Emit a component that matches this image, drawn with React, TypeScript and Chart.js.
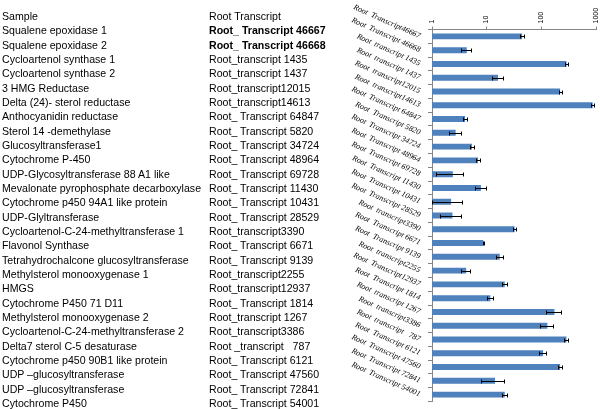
import React, { useEffect, useRef } from "react";
import { Chart, registerables } from "chart.js";

Chart.register(...registerables);

const headerSample = "Sample";
const headerTranscript = "Root Transcript";

const samples = [
  "Squalene epoxidase 1",
  "Squalene epoxidase 2",
  "Cycloartenol synthase 1",
  "Cycloartenol synthase 2",
  "3 HMG Reductase",
  "Delta (24)- sterol reductase",
  "Anthocyanidin reductase",
  "Sterol 14 -demethylase",
  "Glucosyltransferase1",
  "Cytochrome P-450",
  "UDP-Glycosyltransferase 88 A1 like",
  "Mevalonate pyrophosphate decarboxylase",
  "Cytochrome p450 94A1 like protein",
  "UDP-Glyltransferase",
  "Cycloartenol-C-24-methyltransferase 1",
  "Flavonol Synthase",
  "Tetrahydrochalcone glucosyltransferase",
  "Methylsterol monooxygenase 1",
  "HMGS",
  "Cytochrome P450 71 D11",
  "Methylsterol monooxygenase 2",
  "Cycloartenol-C-24-methyltransferase 2",
  "Delta7 sterol C-5 desaturase",
  "Cytochrome p450 90B1 like protein",
  "UDP \u2013glucosyltransferase",
  "UDP \u2013glucosyltransferase",
  "Cytochrome P450",
];

const transcripts = [
  "Root_ Transcript 46667",
  "Root_ Transcript 46668",
  "Root_transcript 1435",
  "Root_transcript 1437",
  "Root_transcript12015",
  "Root_transcript14613",
  "Root_ Transcript 64847",
  "Root_ Transcript 5820",
  "Root_ Transcript 34724",
  "Root_ Transcript 48964",
  "Root_ Transcript 69728",
  "Root_ Transcript 11430",
  "Root_ Transcript 10431",
  "Root_ Transcript 28529",
  "Root_transcript3390",
  "Root_ Transcript 6671",
  "Root_ Transcript 9139",
  "Root_transcript2255",
  "Root_transcript12937",
  "Root_ Transcript 1814",
  "Root_transcript 1267",
  "Root_transcript3386",
  "Root _transcript   787",
  "Root_ Transcript 6121",
  "Root_ Transcript 47560",
  "Root_ Transcript 72841",
  "Root_ Transcript 54001",
];

const boldRows = [0, 1];

const axisLabels = [
  "Root  Transcript46667",
  "Root  Transcript 46668",
  "Root  transcript 1435",
  "Root  transcript 1437",
  "Root  transcript12015",
  "Root  transcript14613",
  "Root  Transcript 64847",
  "Root  Transcript 5820",
  "Root  Transcript 34724",
  "Root  Transcript 48964",
  "Root  Transcript 69728",
  "Root  Transcript 11430",
  "Root  Transcript 10431",
  "Root  Transcript 28529",
  "Root  transcript3390",
  "Root  Transcript 6671",
  "Root  Transcript 9139",
  "Root  transcript2255",
  "Root  Transcript12937",
  "Root  Transcript 1814",
  "Root  transcript 1267",
  "Root  transcript3386",
  "Root  transcript   787",
  "Root  Transcript 6121",
  "Root  Transcript 47560",
  "Root  Transcript 72841",
  "Root  Transcript 54001",
];

const expression = [
  44, 4.3, 283, 16, 217, 851, 4.0, 2.7, 5.35, 6.9, 2.4, 7.8, 2.23, 2.36,
  32, 8.6, 17.2, 4.2, 21.2, 11.6, 171, 127, 283, 106, 217, 14.1, 21.2,
];

const errors = [
  4.5, 0.9, 18, 3.8, 14, 55, 0.35, 0.7, 0.5, 0.45, 1.2, 1.7, 1.25, 0.97,
  1.5, 0.2, 2.3, 0.75, 1.9, 1.55, 50, 34, 25, 16, 19, 6.3, 1.9,
];

const xTicks = [1, 10, 100, 1000];

const errorBarPlugin = {
  id: "errorBars",
  afterDatasetsDraw(chart: any) {
    const { ctx } = chart;
    const xs = chart.scales.x;
    const ys = chart.scales.y;
    ctx.save();
    ctx.strokeStyle = "#000";
    ctx.lineWidth = 1;
    expression.forEach((v, i) => {
      const e = errors[i];
      const yc = Math.round(ys.getPixelForValue(i)) + 0.5;
      const x1 = Math.round(xs.getPixelForValue(Math.max(v - e, 0.9))) + 0.5;
      const x2 = Math.round(xs.getPixelForValue(v + e)) + 0.5;
      ctx.beginPath();
      ctx.moveTo(x1, yc);
      ctx.lineTo(x2, yc);
      ctx.moveTo(x1, yc - 2);
      ctx.lineTo(x1, yc + 2);
      ctx.moveTo(x2, yc - 2);
      ctx.lineTo(x2, yc + 2);
      ctx.stroke();
    });
    ctx.restore();
  },
};

const rowTop = (i: number) => 16 + i * 14.33 - 7;

export default function App() {
  const ref = useRef<HTMLCanvasElement | null>(null);

  useEffect(() => {
    if (!ref.current) return;
    const chart = new Chart(ref.current, {
      type: "bar",
      data: {
        labels: axisLabels,
        datasets: [
          {
            data: expression,
            backgroundColor: "#4f81bd",
            borderWidth: 0,
            barPercentage: 0.43,
            categoryPercentage: 1,
          },
        ],
      },
      options: {
        indexAxis: "y",
        animation: false,
        responsive: false,
        layout: { padding: { top: 0, right: 3.5, bottom: 7.5, left: 0 } },
        plugins: { legend: { display: false }, tooltip: { enabled: false } },
        scales: {
          x: {
            type: "logarithmic",
            position: "top",
            min: 1,
            max: 1000,
            afterBuildTicks: (s: any) => {
              s.ticks = xTicks.map((v) => ({ value: v }));
            },
            afterFit: (s: any) => {
              s.height = 29.5;
              s.paddingLeft = 0;
              s.paddingRight = 0;
            },
            ticks: {
              autoSkip: false,
              minRotation: 90,
              maxRotation: 90,
              padding: 3,
              labelOffset: 8,
              color: "#000",
              font: { family: "Liberation Sans", size: 7 },
              callback: (v: any) => String(v),
            },
            grid: { drawOnChartArea: false, tickLength: 3, color: "#868686" },
            border: { color: "#868686" },
          },
          y: {
            afterFit: (s: any) => {
              s.width = 432;
              s.paddingTop = 0;
              s.paddingBottom = 0;
            },
            ticks: {
              autoSkip: false,
              minRotation: -24,
              maxRotation: 90,
              padding: 8,
              color: "#000",
              font: { family: "Liberation Serif", style: "italic", size: 8 },
            },
            grid: { drawOnChartArea: false, tickLength: 4, color: "#868686", offset: true },
            border: { color: "#868686" },
          },
        },
      } as any,
      plugins: [errorBarPlugin],
    });
    return () => chart.destroy();
  }, []);

  const textStyle = (i: number, x: number, bold: boolean): React.CSSProperties => ({
    position: "absolute",
    left: x,
    top: rowTop(i),
    lineHeight: "14px",
    fontSize: "10.6px",
    fontFamily: "'Liberation Sans', Arial, sans-serif",
    fontWeight: bold ? "bold" : "normal",
    whiteSpace: "pre",
    color: "#000",
  });

  return (
    <div style={{ position: "fixed", left: 0, top: 0, width: 600, height: 409, background: "#fff" }}>
      <canvas ref={ref} width={600} height={409} style={{ position: "absolute", left: 0, top: 0 }} />
      <div style={textStyle(0, 2, false)}>{headerSample}</div>
      <div style={textStyle(0, 209, false)}>{headerTranscript}</div>
      {samples.map((s, i) => (
        <div key={"s" + i} style={textStyle(i + 1, 2, false)}>{s}</div>
      ))}
      {transcripts.map((t, i) => (
        <div key={"t" + i} style={textStyle(i + 1, 209, boldRows.includes(i))}>{t}</div>
      ))}
    </div>
  );
}
